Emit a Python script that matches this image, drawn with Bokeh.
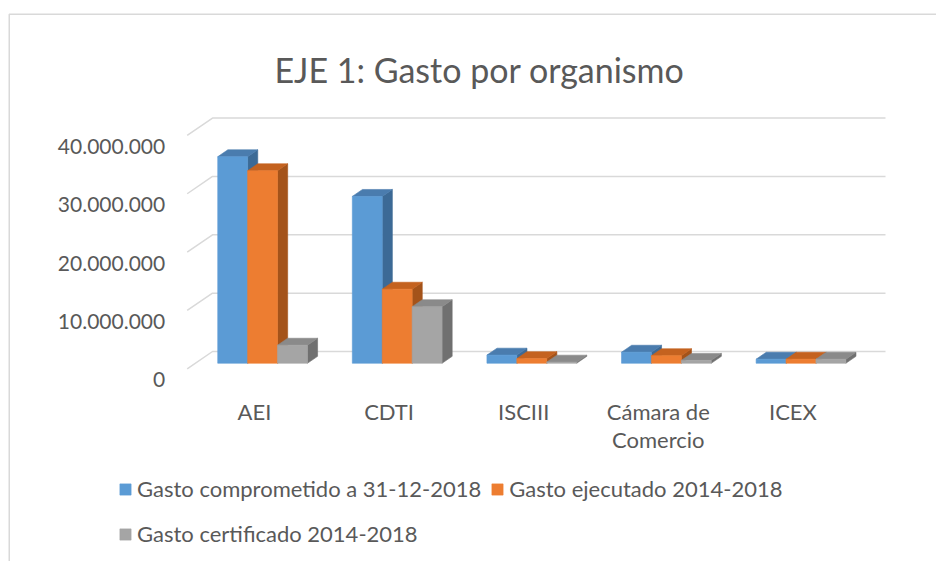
from bokeh.plotting import figure
from bokeh.models import Range1d, Legend, LegendItem, GlobalInlineStyleSheet
from bokeh.embed import file_html
from bokeh.resources import INLINE
from bokeh.core.properties import value

# ---------------- data ----------------
categories = ["AEI", "CDTI", "ISCIII", "Cámara de\nComercio", "ICEX"]
series_names = ["Gasto comprometido a 31-12-2018",
                "Gasto ejecutado 2014-2018",
                "Gasto certificado 2014-2018"]
comprometido = [35.4e6, 28.6e6, 1.4e6, 1.9e6, 0.7e6]
ejecutado = [33.0e6, 12.7e6, 0.8e6, 1.3e6, 0.7e6]
certificado = [3.1e6, 9.7e6, 0.2e6, 0.5e6, 0.7e6]
y_ticks = [0, 10_000_000, 20_000_000, 30_000_000, 40_000_000]
title_text = "EJE 1: Gasto por organismo"

series_values = [comprometido, ejecutado, certificado]
front_colors = ["#5B9BD5", "#ED7D31", "#A5A5A5"]
top_colors = ["#4A7CAE", "#C4621F", "#8A8A8A"]
side_colors = ["#3C6A96", "#A4531A", "#707070"]

# ---------------- layout (page pixels) ----------------
W, H = 936, 561
FRONT_LEFT = 186.7      # page x of category 0 on the front plane
FRONT_FLOOR = 368.3     # page y of value 0 on the front plane
PX_CAT = 134.6          # px per category
PX_VAL = 58.35 / 10e6   # px per unit of value
DEPTH_DX, DEPTH_DY = 25.3, 17.3
F0, F1 = 0.32, 0.72     # depth fractions of bar front / back
BAR_W = 1 / 4.5         # gap width 150%
TEXT = "#595959"
GRID = "#D9D9D9"
FONT = "Lato"


def px_to_x(px):
    return (px - FRONT_LEFT) / PX_CAT


def py_to_y(py):
    return (FRONT_FLOOR - py) / PX_VAL


kx = DEPTH_DX / PX_CAT
ky = DEPTH_DY / PX_VAL

p = figure(width=W, height=H,
           x_range=Range1d(px_to_x(0), px_to_x(W)),
           y_range=Range1d(py_to_y(H), py_to_y(0)),
           output_backend="svg", toolbar_location=None,
           x_axis_location=None, y_axis_location=None,
           min_border=0, outline_line_color=None,
           background_fill_color="white", border_fill_color="white")
p.grid.visible = False
p.stylesheets = [GlobalInlineStyleSheet(css="html, body { margin: 0; padding: 0; overflow: hidden; }")]

# chart-area border (left and top edges visible)
p.multi_line(xs=[[px_to_x(8.75), px_to_x(8.75), px_to_x(W)]],
             ys=[[py_to_y(H), py_to_y(13.75), py_to_y(13.75)]],
             line_color=GRID, line_width=1.5)

n = len(categories)
# gridlines: side-wall diagonal + back wall
p.multi_line(xs=[[0, kx, n + kx] for _ in y_ticks],
             ys=[[v, v + ky, v + ky] for v in y_ticks],
             line_color=GRID, line_width=1.5)

# y tick labels
p.text(x=[-22 / PX_CAT] * len(y_ticks),
       y=[v - 11 / PX_VAL for v in y_ticks],
       text=[f"{v:,}".replace(",", ".") for v in y_ticks],
       text_align="right", text_baseline="alphabetic",
       text_font=value(FONT), text_font_size="21px", text_color=TEXT)

# category labels
lx, ly, lt = [], [], []
for i, c in enumerate(categories):
    for k, line in enumerate(c.split("\n")):
        lx.append(i + 0.5)
        ly.append(-(43.0 + 28 * k) / PX_VAL)
        lt.append(line)
p.text(x=lx, y=ly, text=lt, text_align="center", text_baseline="alphabetic",
       text_font=value(FONT), text_font_size="22px", text_color=TEXT)

# title
p.text(x=[px_to_x(479)], y=[py_to_y(69.3)], text=[title_text],
       text_align="center", text_baseline="alphabetic",
       text_font=value(FONT), text_font_size="34px", text_color=TEXT)

# 3D bars
dxb = (F1 - F0) * kx
dyb = (F1 - F0) * ky
fronts = []
for j, vals in enumerate(series_values):
    fx, fy, tx, ty, sx, sy = [], [], [], [], [], []
    for i, h in enumerate(vals):
        x0 = i + 0.5 + (j - 1.5) * BAR_W + F0 * kx
        x1 = x0 + BAR_W
        yb = F0 * ky
        yt = h + F0 * ky
        fx.append([x0, x1, x1, x0]); fy.append([yb, yb, yt, yt])
        tx.append([x0, x1, x1 + dxb, x0 + dxb]); ty.append([yt, yt, yt + dyb, yt + dyb])
        sx.append([x1, x1 + dxb, x1 + dxb, x1]); sy.append([yb, yb + dyb, yt + dyb, yt])
    p.patches(sx, sy, fill_color=side_colors[j], line_color=side_colors[j], line_width=0.6)
    p.patches(tx, ty, fill_color=top_colors[j], line_color=top_colors[j], line_width=0.6)
    r = p.patches(fx, fy, fill_color=front_colors[j], line_color=front_colors[j], line_width=0.6)
    fronts.append(r)


def make_legend(idx, loc):
    return Legend(items=[LegendItem(label=series_names[k], renderers=[fronts[k]]) for k in idx],
                  orientation="horizontal", location=loc,
                  glyph_width=14, glyph_height=14, label_standoff=5, spacing=9,
                  padding=0, margin=0, border_line_color=None,
                  background_fill_alpha=0,
                  label_text_font=FONT, label_text_font_size="22px",
                  label_text_color=TEXT)


p.add_layout(make_legend([0, 1], (118, 59)))
p.add_layout(make_legend([2], (118, 14)))

open("out.html", "w").write(file_html(p, INLINE, title="EJE 1: Gasto por organismo"))
